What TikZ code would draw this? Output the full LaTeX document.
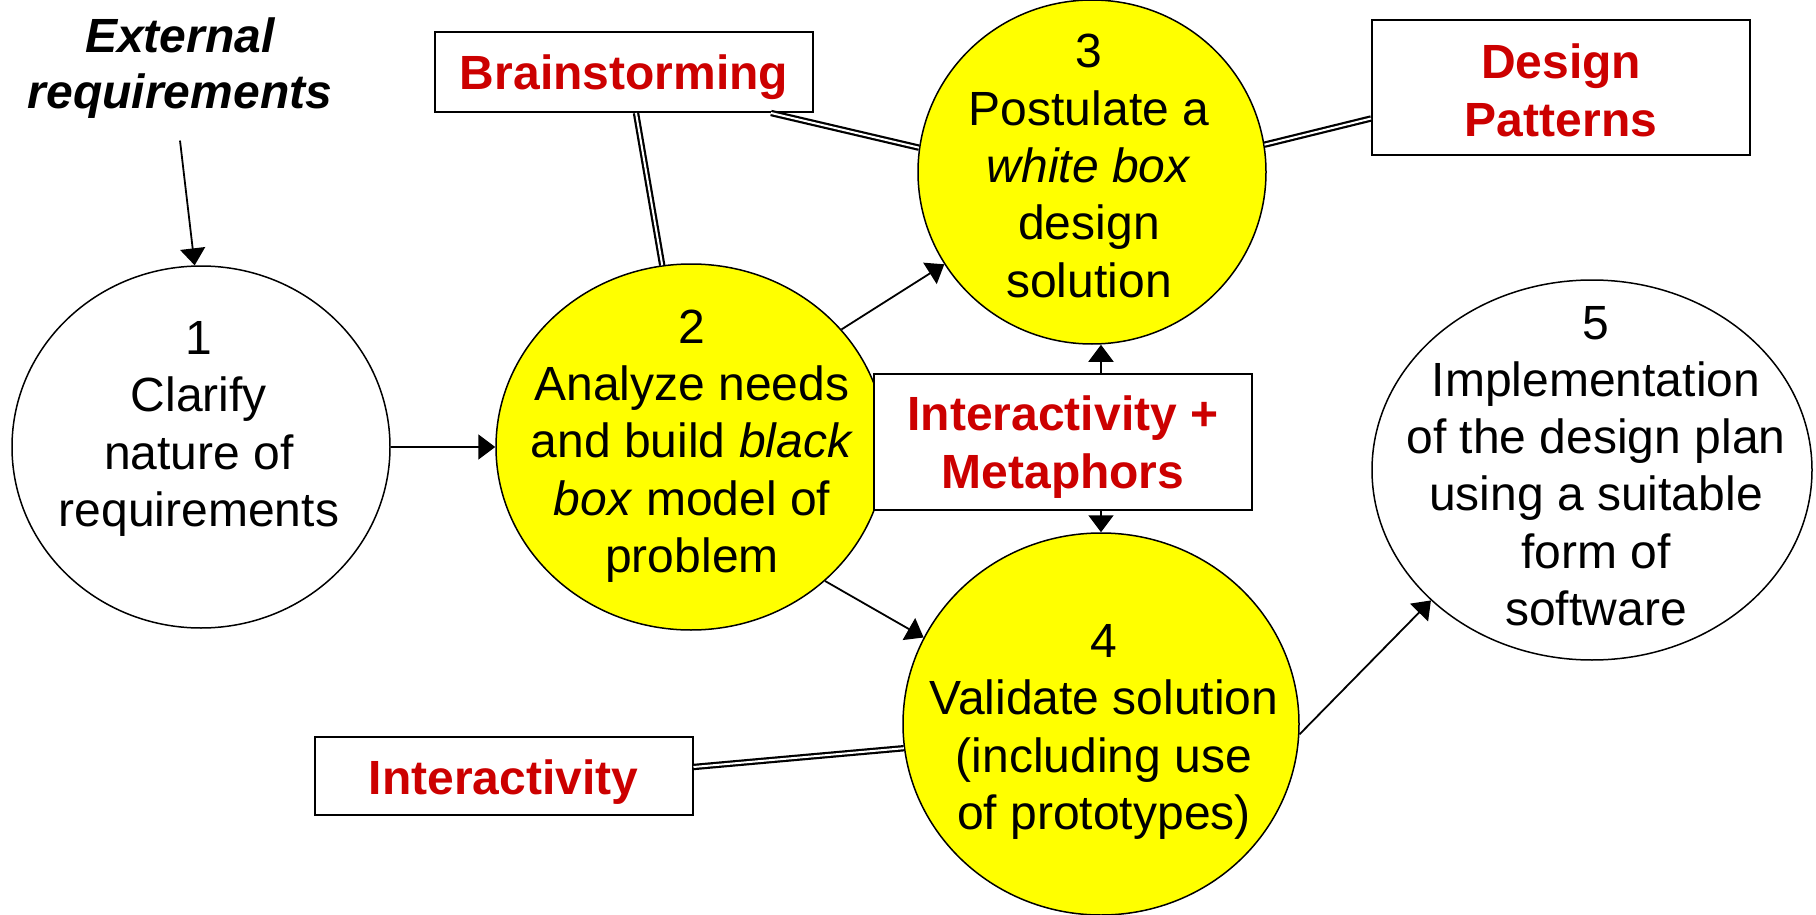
\documentclass[tikz,border=0pt]{standalone}
\usepackage{fontspec}
\setmainfont{Liberation Sans}
\usetikzlibrary{shapes.geometric,arrows.meta,calc}
\definecolor{labelred}{RGB}{204,0,0}
\definecolor{stageyellow}{RGB}{255,255,0}

\begin{document}
\begin{tikzpicture}[x=1pt,y=-1pt,
  stage/.style={ellipse, draw=black, line width=1.5pt, inner sep=0pt},
  stagetext/.style={align=center, font=\fontsize{48}{57.3}\selectfont, inner sep=0pt},
  labelbox/.style={draw=black, line width=2pt, fill=white, inner sep=0pt, minimum width=378pt},
  labeltext/.style={text=labelred, align=center, font=\fontsize{48}{58}\selectfont\bfseries, inner sep=0pt},
  link/.style={draw=black, double=white, double distance=2pt, line width=2.2pt},
  flow/.style={draw=black, line width=1.8pt, -{Triangle[length=17pt,width=25pt]}},
]
\fill[white] (0,0) rectangle (1816,915);
\useasboundingbox (0,0) rectangle (1816,915);

% process stages
\node[stage, fill=white, minimum width=378pt, minimum height=362pt] (e1) at (201,447) {};
\node[stage, fill=stageyellow, minimum width=390pt, minimum height=366pt] (e2) at (691,447) {};
\node[stage, fill=stageyellow, minimum width=348pt, minimum height=344pt] (e3) at (1092,172) {};
\node[stage, fill=stageyellow, minimum width=396pt, minimum height=382pt] (e4) at (1101,724) {};
\node[stage, fill=white, minimum width=440pt, minimum height=380pt] (e5) at (1592,470) {};

\node[stagetext] (t1) at (199,429) {1\\Clarify\\nature of\\requirements};
\node[stagetext] (t2) at (692,446) {2\\Analyze needs\\and build \textit{black}\\\textit{box} model of\\problem};
\node[stagetext] (t3) at (1089,166) {3\\Postulate a\\\textit{white box}\\design\\solution};
\node[stagetext] (t4) at (1104,732) {4\\Validate solution\\(including use\\of prototypes)};
\node[stagetext] (t5) at (1596,466) {5\\Implementation\\of the design plan\\using a suitable\\form of\\software};

% external input
\node[align=center, inner sep=0pt, font=\fontsize{48}{56}\selectfont\bfseries\itshape] (ext) at (180,68)
  {External\\requirements};

% supporting techniques
\node[labelbox, minimum height=80pt] (bs) at (624,72) {};
\node[labelbox, minimum height=135pt] (dp) at (1561,87.5) {};
\node[labelbox, minimum height=136pt] (im) at (1063,442) {};
\node[labelbox, minimum height=78pt] (ia) at (503.5,776) {};

\node[labeltext, yshift=-5pt] (bst) at (bs) {Brainstorming};
\node[labeltext, yshift=-3pt] (dpt) at (dp) {Design\\Patterns};
\node[labeltext, yshift=-5pt] (imt) at (im) {Interactivity +\\Metaphors};
\node[labeltext, yshift=-6pt] (iat) at (ia) {Interactivity};

% technique links
\draw[link] ([xshift=12pt]bs.south) -- (e2.99);
\draw[link] ([xshift=-43pt]bs.south east) -- (e3.172);
\draw[link] ([yshift=-31pt]dp.west) -- (e3.9);
\draw[link] ([yshift=9pt]ia.east) -- (e4.187);

% process flow
\draw[flow] ([yshift=-22pt]ext.south) -- (e1.92);
\draw[flow] (e1.east) -- (e2.west);
\draw[flow] (e2.38) -- (e3.212);
\draw[flow] (e2.-45) -- (e4.154);
\draw[flow] (im.north -| e4.center) -- (e3.south -| e4.center);
\draw[flow] (im.south -| e4.center) -- (e4.north);
\draw[flow] (e4.-3) -- (e5.219);
\end{tikzpicture}
\end{document}
